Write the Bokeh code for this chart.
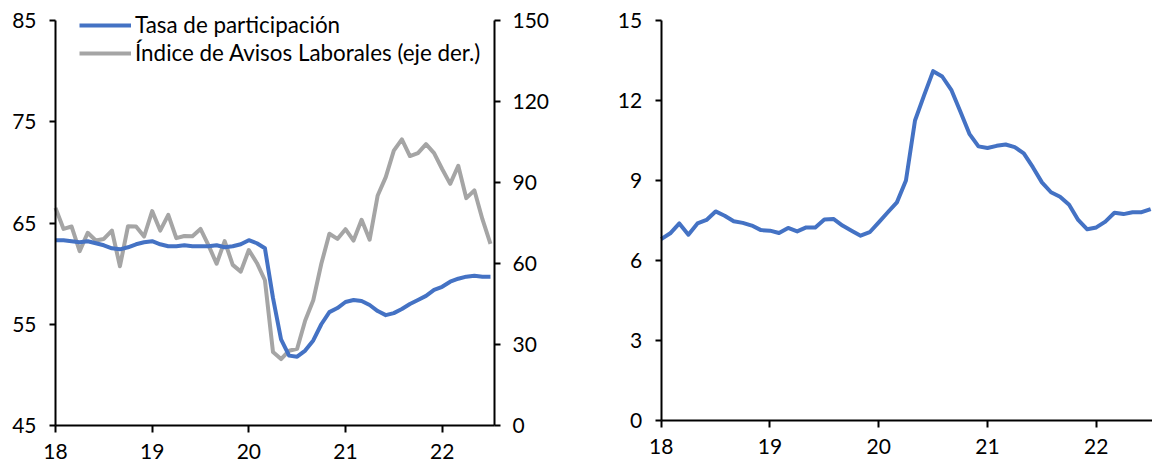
from bokeh.plotting import figure
from bokeh.models import LinearAxis, Range1d, FixedTicker, Legend, LegendItem
from bokeh.layouts import row
from bokeh.embed import file_html
from bokeh.resources import INLINE

# ---- data (monthly, Jan-2018 .. Jul-2022) ----
year_ticks = [0, 12, 24, 36, 48]
year_labels = ["18", "19", "20", "21", "22"]

participacion = [63.3, 63.3, 63.2, 63.1, 63.2, 63.0, 62.8, 62.5, 62.4, 62.6,
                 62.9, 63.1, 63.2, 62.9, 62.7, 62.7, 62.8, 62.7, 62.7, 62.7,
                 62.8, 62.6, 62.7, 62.9, 63.3, 63.0, 62.5, 57.6, 53.5, 51.9,
                 51.8, 52.4, 53.4, 55.0, 56.2, 56.6, 57.2, 57.4, 57.3, 56.9,
                 56.3, 55.9, 56.1, 56.5, 57.0, 57.4, 57.8, 58.4, 58.7, 59.2,
                 59.5, 59.7, 59.8, 59.7, 59.7]

avisos = [80.6, 72.8, 73.7, 64.6, 71.4, 68.5, 69.1, 72.2, 59.0, 73.8,
          73.7, 70.0, 79.4, 72.2, 78.0, 69.4, 70.2, 70.1, 72.8, 66.7,
          59.9, 68.3, 59.5, 57.0, 65.0, 60.2, 53.8, 27.2, 24.6, 27.7,
          28.4, 38.9, 46.4, 59.9, 71.0, 69.1, 72.7, 68.5, 76.2, 68.8,
          85.2, 92.0, 101.8, 106.0, 99.8, 100.9, 104.2, 100.9, 95.0, 89.5,
          96.2, 84.2, 87.1, 76.4, 67.3]

desempleo = [6.8, 7.02, 7.39, 6.97, 7.39, 7.52, 7.84, 7.68, 7.47, 7.41,
             7.31, 7.14, 7.12, 7.03, 7.22, 7.09, 7.24, 7.24, 7.54, 7.56,
             7.31, 7.12, 6.93, 7.06, 7.43, 7.81, 8.18, 9.0, 11.25, 12.19,
             13.1, 12.9, 12.4, 11.59, 10.75, 10.28, 10.22, 10.3, 10.35, 10.25,
             10.02, 9.5, 8.93, 8.56, 8.39, 8.09, 7.52, 7.17, 7.24, 7.46,
             7.79, 7.74, 7.81, 7.81, 7.93]

months = list(range(len(participacion)))

BLUE = "#4472C4"
GRAY = "#A5A5A5"
FONT = "Lato"
TICK_FS = "21px"
W = 576
H = 462
TOP_PAD = 20  # pixels between figure top and the top tick


def style_axis(ax, standoff, tick_out):
    ax.axis_line_color = "black"
    ax.axis_line_width = 2
    ax.major_tick_line_color = "black"
    ax.major_tick_line_width = 2
    ax.major_tick_in = 0
    ax.major_tick_out = tick_out
    ax.minor_tick_line_color = None
    ax.major_label_text_font = FONT
    ax.major_label_text_font_size = TICK_FS
    ax.major_label_text_color = "black"
    ax.major_label_standoff = standoff


def y_extended(y0, y1, axis_px):
    """Range so that y1 sits TOP_PAD px below the top and y0 sits at axis_px."""
    per_px = (y1 - y0) / (axis_px - TOP_PAD)
    return y0 - (H - axis_px) * per_px, y1 + TOP_PAD * per_px


def x_extended(x0, x1, left_px, right_px):
    per_px = (x1 - x0) / (right_px - left_px)
    return x0 - left_px * per_px, x1 + (W - right_px) * per_px


def base_fig(x_end, left_px, right_px, y0, y1, axis_px):
    # the frame covers the whole figure so nothing is clipped; axes are
    # placed at fixed data locations and bounded to the visible spans
    xlo, xhi = x_extended(0, x_end, left_px, right_px)
    ylo, yhi = y_extended(y0, y1, axis_px)
    p = figure(width=W, height=H, x_range=Range1d(xlo, xhi),
               y_range=Range1d(ylo, yhi), output_backend="svg",
               toolbar_location=None, min_border=0)
    p.outline_line_color = None
    p.xgrid.visible = False
    p.ygrid.visible = False
    p.background_fill_color = "white"
    p.border_fill_color = "white"
    xa = p.xaxis[0]
    xa.ticker = FixedTicker(ticks=year_ticks)
    xa.major_label_overrides = {t: l for t, l in zip(year_ticks, year_labels)}
    xa.fixed_location = y0
    xa.bounds = (0, x_end)
    style_axis(xa, 11, 7)
    ya = p.yaxis[0]
    ya.fixed_location = 0
    ya.bounds = (y0, y1)
    style_axis(ya, 13, 6)
    return p


# ---- left panel ----
p1 = base_fig(54.5, 55, 494, 45, 85, 425)
p1.yaxis[0].ticker = FixedTicker(ticks=[45, 55, 65, 75, 85])
r_lo, r_hi = y_extended(0, 150, 425)
p1.extra_y_ranges = {"right": Range1d(r_lo, r_hi)}
ax_r = LinearAxis(y_range_name="right", ticker=FixedTicker(ticks=[0, 30, 60, 90, 120, 150]),
                  bounds=(0, 150), fixed_location=54.5)
style_axis(ax_r, 12, 6)
p1.add_layout(ax_r, "right")

r_gray = p1.line(months, avisos, line_color=GRAY, line_width=4, line_join="round",
                 y_range_name="right")
r_blue = p1.line(months, participacion, line_color=BLUE, line_width=4, line_join="round")

legend = Legend(items=[
    LegendItem(label="Tasa de participación", renderers=[r_blue]),
    LegendItem(label="Índice de Avisos Laborales (eje der.)", renderers=[r_gray]),
], location=(79, 396), orientation="vertical")
legend.label_text_font = FONT
legend.label_text_font_size = "22.4px"
legend.label_text_color = "black"
legend.glyph_width = 52
legend.glyph_height = 26
legend.label_height = 26
legend.label_standoff = 4
legend.spacing = 1
legend.padding = 0
legend.margin = 0
legend.border_line_alpha = 0
legend.background_fill_alpha = 0
p1.add_layout(legend)

# ---- right panel ----
p2 = base_fig(54.2, 84.7, W, 0, 15, 420)
p2.yaxis[0].ticker = FixedTicker(ticks=[0, 3, 6, 9, 12, 15])
p2.line(months, desempleo, line_color=BLUE, line_width=4, line_join="round")

layout = row(p1, p2)
open("out.html", "w").write(file_html(layout, INLINE))
